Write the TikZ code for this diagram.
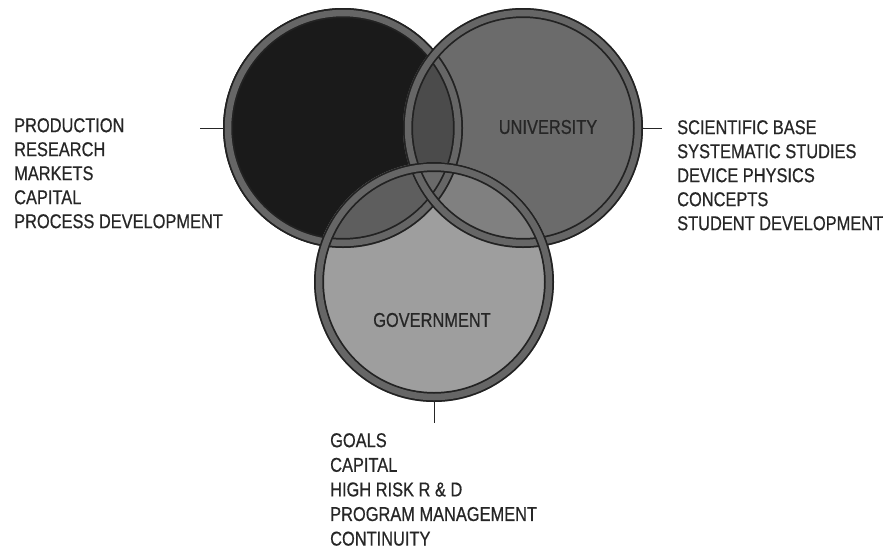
\documentclass[tikz,border=0pt]{standalone}
\usepackage{fontspec}
\setmainfont{Liberation Sans}[FakeStretch=0.82,FakeBold=0.6]
\usetikzlibrary{positioning}

\definecolor{indfill}{HTML}{1A1A1A}
\definecolor{unifill}{HTML}{6B6B6B}
\definecolor{govfill}{HTML}{9E9E9E}
\definecolor{iufill}{HTML}{4B4B4B}
\definecolor{igfill}{HTML}{5E5E5E}
\definecolor{ugfill}{HTML}{808080}
\definecolor{allfill}{HTML}{6A6A6A}
\definecolor{ringline}{HTML}{222222}
\definecolor{ringband}{HTML}{666666}

\tikzset{
  venn/.style={circle, minimum size=240pt, inner sep=0pt},
  ringout/.style={draw=ringline, line width=10pt},
  ringin/.style={draw=ringband, line width=6.5pt},
  list/.style={align=left, anchor=north west, inner sep=0pt, font=\fontsize{20}{24}\selectfont, text=black!85},
  tag/.style={font=\fontsize{20}{24}\selectfont, text=black!85},
  tick/.style={line width=1pt, black!85}
}

\begin{document}
\begin{tikzpicture}[x=1pt,y=-1pt]
\useasboundingbox (0,0) rectangle (888,552);

\node[venn] (ind) at (343,128) {};
\node[venn] (uni) at (523,128) {};
\node[venn] (gov) at (434,282) {};

% fills
\fill[indfill] (ind.center) circle (120pt);
\fill[unifill] (uni.center) circle (120pt);
\fill[govfill] (gov.center) circle (120pt);
\begin{scope}
\clip (ind.center) circle (120pt);
\fill[iufill] (uni.center) circle (120pt);
\fill[igfill] (gov.center) circle (120pt);
\end{scope}
\begin{scope}
\clip (uni.center) circle (120pt);
\fill[ugfill] (gov.center) circle (120pt);
\clip (ind.center) circle (120pt);
\fill[allfill] (gov.center) circle (120pt);
\end{scope}

% rings
\foreach \c in {ind,uni,gov}{
  \draw[ringout] (\c.center) circle (115pt);
  \draw[ringin] (\c.center) circle (115pt);
}

\node[tag] (unitag) at (548,127) {UNIVERSITY};
\node[tag] (govtag) at (432,320) {GOVERNMENT};

\node[list] (indlist) at (14,118) {PRODUCTION\\RESEARCH\\MARKETS\\CAPITAL\\PROCESS DEVELOPMENT};
\node[list] (unilist) at (677,120) {SCIENTIFIC BASE\\SYSTEMATIC STUDIES\\DEVICE PHYSICS\\CONCEPTS\\STUDENT DEVELOPMENT};
\node[list, font=\fontsize{20}{24.6}\selectfont] (govlist) at (330,433) {GOALS\\CAPITAL\\HIGH RISK R \& D\\PROGRAM MANAGEMENT\\CONTINUITY};

\coordinate (indtick) at (200,128);
\coordinate (unitick) at (662,128);
\coordinate (govtick) at (434,423);
\draw[tick] (ind.west) -- (indtick);
\draw[tick] (uni.east) -- (unitick);
\draw[tick] (gov.south) -- (govtick);

\end{tikzpicture}
\end{document}
